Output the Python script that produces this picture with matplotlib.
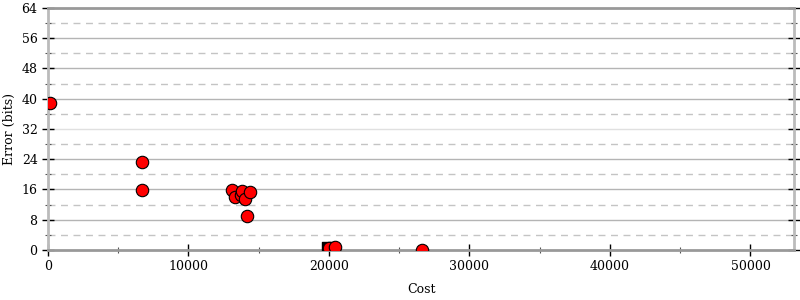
import numpy as np
import matplotlib
matplotlib.use("Agg")
import matplotlib.pyplot as plt
from matplotlib.ticker import MultipleLocator

plt.rcParams["font.family"] = "DejaVu Serif"
plt.rcParams["font.size"] = 9

# points
cost = [150, 6690, 6690, 13075, 13310, 13715, 13787, 14021, 14356, 14143,
        20000, 20430, 26600]
error = [39.0, 23.4, 15.8, 15.8, 13.9, 14.5, 15.5, 13.4, 15.4, 9.0,
         0.4, 0.9, 0.0]

# black square marker near 20000
sq_cost = [19850]
sq_error = [0.9]

fig = plt.figure(figsize=(8, 3), dpi=100)
ax = fig.add_axes([0.06, 0.1667, 0.9325, 0.8067])

ax.set_xlim(0, 53100)
ax.set_ylim(0, 64)

# grid: solid majors, dashed minors
for y in range(8, 64, 8):
    c = "#e0e0e0" if y == 32 else "#b4b4b4"
    ax.axhline(y, color=c, lw=1.0, zorder=1)
for y in range(4, 64, 8):
    ax.axhline(y, color="#c4c4c4", lw=1.0, ls=(0, (5, 4)), zorder=1)

ax.scatter(sq_cost, sq_error, marker="s", s=60, color="black", zorder=3)
ax.scatter(cost, error, s=80, color="#ff0000", edgecolors="black",
           linewidths=0.8, zorder=4)

ax.xaxis.set_major_locator(MultipleLocator(10000))
ax.xaxis.set_minor_locator(MultipleLocator(5000))
ax.yaxis.set_major_locator(MultipleLocator(8))
ax.yaxis.set_minor_locator(MultipleLocator(4))

ax.tick_params(which="major", direction="inout", length=9, width=1,
               color="black", right=True, pad=3)
ax.tick_params(which="minor", direction="inout", length=5, width=0.8,
               color="#555555", right=True)

for side in ["top", "bottom"]:
    ax.spines[side].set_color("#999999")
    ax.spines[side].set_linewidth(2)
for side in ["left", "right"]:
    ax.spines[side].set_color("#bbbbbb")
    ax.spines[side].set_linewidth(2)

ax.set_xlabel("Cost", labelpad=7)
ax.set_ylabel("Error (bits)", labelpad=4)

fig.savefig("out.png", dpi=100)
